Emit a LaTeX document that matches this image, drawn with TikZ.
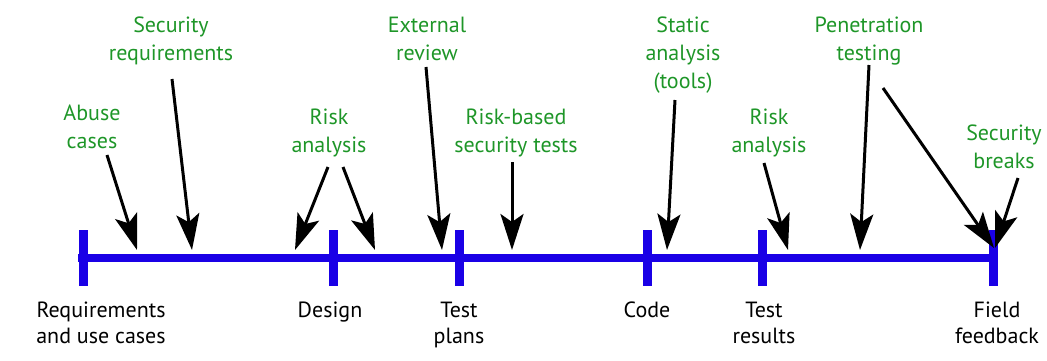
\documentclass[tikz,border=0pt]{standalone}
\usepackage{fontspec}
\setmainfont{PT Sans}
\usetikzlibrary{arrows.meta}
\definecolor{tlblue}{RGB}{26,0,230}
\definecolor{actgreen}{RGB}{30,150,40}
\tikzset{
  phase/.style={align=center,font=\fontsize{22}{26}\selectfont,text=black,inner sep=0pt,anchor=base},
  act/.style={align=center,font=\fontsize{22}{28}\selectfont,text=actgreen,inner sep=0pt,anchor=base},
  axis/.style={draw=tlblue,line width=8pt},
  tick/.style={draw=tlblue,line width=9pt},
  pointer/.style={draw=black,line width=3pt,-{Stealth[length=36pt,width=23pt,inset=8pt]}},
}
\begin{document}
\begin{tikzpicture}[x=1pt,y=-1pt]
\useasboundingbox (0,0) rectangle (1047,360);
% timeline
\coordinate (L) at (78,258);
\coordinate (R) at (997,258);
\draw[axis] (L) -- (R);
\foreach \n/\x in {1/83,2/333,3/459,4/647,5/762,6/993}{
  \coordinate (ta\n) at (\x,230);
  \coordinate (tb\n) at (\x,286);
  \draw[tick] (ta\n) -- (tb\n);
}
% phase labels (anchor = baseline of last line)
\node[phase] (p1) at (101,343) {Requirements\\and use cases};
\node[phase] (p2) at (330,317) {Design};
\node[phase] (p3) at (459,343) {Test\\plans};
\node[phase] (p4) at (647,317) {Code};
\node[phase] (p5) at (764,343) {Test\\results};
\node[phase] (p6) at (997,343) {Field\\feedback};
% activity labels
\node[act] (a1) at (92,148) {Abuse\\cases};
\node[act] (a2) at (171,60) {Security\\requirements};
\node[act] (a3) at (329,152) {Risk\\analysis};
\node[act] (a4) at (427,60) {External\\review};
\node[act] (a5) at (516,152) {Risk-based\\security tests};
\node[act] (a6) at (683,88) {Static\\analysis\\(tools)};
\node[act] (a7) at (769,152) {Risk\\analysis};
\node[act] (a8) at (869,60) {Penetration\\testing};
\node[act] (a9) at (1004,168) {Security\\breaks};
% arrow ends
\coordinate (s1) at (107,155); \coordinate (e1) at (137,250);
\coordinate (s2) at (172,79);  \coordinate (e2) at (192,250);
\coordinate (s3) at (328,167); \coordinate (e3) at (295,250);
\coordinate (s4) at (343,167); \coordinate (e4) at (375,250);
\coordinate (s5) at (426,67);  \coordinate (e5) at (442,250);
\coordinate (s6) at (512,162); \coordinate (e6) at (512,250);
\coordinate (s7) at (675,100); \coordinate (e7) at (667,250);
\coordinate (s8) at (764,163); \coordinate (e8) at (788,250);
\coordinate (s9) at (869,65);  \coordinate (e9) at (860,250);
\coordinate (s10) at (883,88); \coordinate (e10) at (994,248);
\coordinate (s11) at (1018,178); \coordinate (e11) at (995,248);
\foreach \i in {1,...,11}{\draw[pointer] (s\i) -- (e\i);}
\end{tikzpicture}
\end{document}
